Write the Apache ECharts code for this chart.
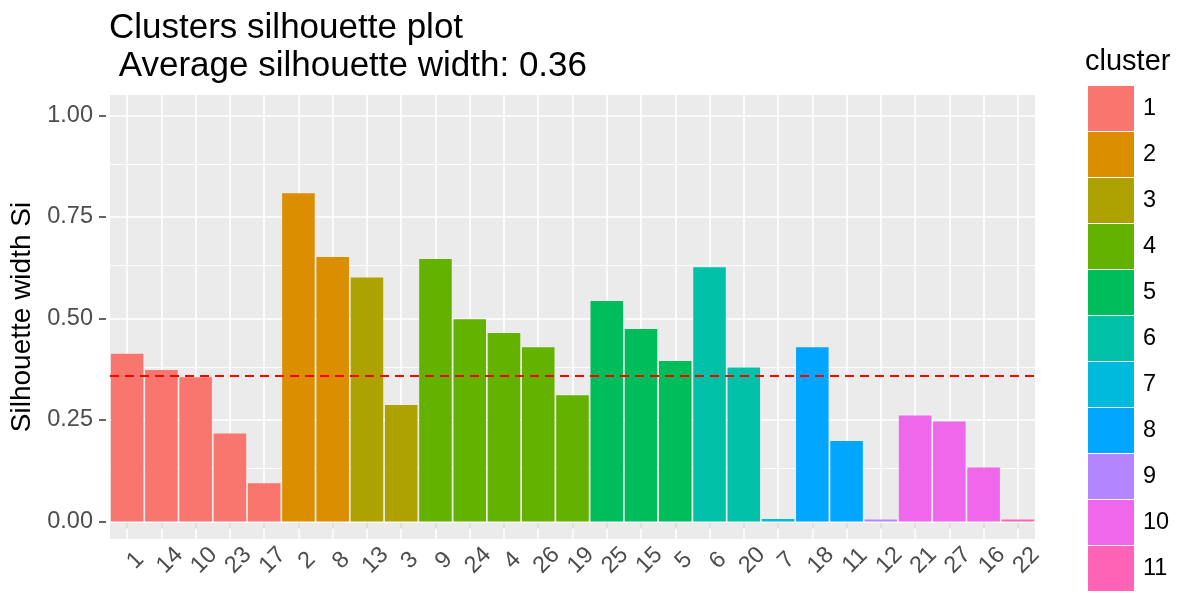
<!DOCTYPE html>
<html>
<head>
<meta charset="utf-8">
<title>Clusters silhouette plot</title>
<script src="https://cdn.jsdelivr.net/npm/echarts@6/dist/echarts.min.js"></script>
<style>
  html, body { margin: 0; padding: 0; background: #fff; }
  #main { width: 1180px; height: 593px; }
</style>
</head>
<body>
<div id="main"></div>
<script>
// observations in silhouette order
const samples = ['1', '14', '10', '23', '17', '2', '8', '13', '3', '9', '24', '4', '26', '19',
  '25', '15', '5', '6', '20', '7', '18', '11', '12', '21', '27', '16', '22'];
const silWidth = [0.413, 0.373, 0.355, 0.217, 0.094, 0.808, 0.651, 0.601, 0.287, 0.646, 0.498, 0.464, 0.429, 0.311,
  0.543, 0.474, 0.395, 0.626, 0.379, 0.006, 0.429, 0.198, 0.005, 0.261, 0.246, 0.133, 0.005];
const clusterOf = ['1', '1', '1', '1', '1', '2', '2', '3', '3', '4', '4', '4', '4', '4',
  '5', '5', '5', '6', '6', '7', '8', '8', '9', '10', '10', '10', '11'];
const clusters = ['1', '2', '3', '4', '5', '6', '7', '8', '9', '10', '11'];
const clusterColors = ['#F8766D', '#DB8E00', '#AEA200', '#64B200', '#00BD5C', '#00C1A7',
  '#00BADE', '#00A6FF', '#B385FF', '#EF67EB', '#FF63B6'];
const avgWidth = 0.36;
const yTicks = [0, 0.25, 0.5, 0.75, 1];
const yMinorTicks = [0.125, 0.375, 0.625, 0.875];

const chart = echarts.init(document.getElementById('main'), null, { renderer: 'canvas' });

// one bar series per cluster, overlapping so each category shows one bar
const barSeries = clusters.map((c, i) => ({
  name: c,
  type: 'bar',
  z: 2,
  barGap: '-100%',
  barCategoryGap: '5%',
  itemStyle: { color: clusterColors[i] },
  data: silWidth.map((v, k) => (clusterOf[k] === c ? v : null))
}));

// panel grid lines (ggplot style) drawn as mark lines behind the bars
const gridLines = [];
yTicks.forEach(v => gridLines.push({ yAxis: v, lineStyle: { width: 1.6 } }));
yMinorTicks.forEach(v => gridLines.push({ yAxis: v, lineStyle: { width: 0.9 } }));
samples.forEach(s => gridLines.push({ xAxis: s, lineStyle: { width: 1.6 } }));

const option = {
  animation: false,
  textStyle: { fontFamily: 'Liberation Sans, Arial, sans-serif' },
  title: [
    {
      text: 'Clusters silhouette plot\n Average silhouette width: 0.36',
      left: 104,
      top: 4,
      textStyle: { fontSize: 35, fontWeight: 'normal', color: '#000', lineHeight: 38 }
    },
    {
      text: 'cluster',
      left: 1080,
      top: 42,
      textStyle: { fontSize: 29, fontWeight: 'normal', color: '#000' }
    }
  ],
  legend: {
    data: clusters,
    orient: 'vertical',
    left: 1083,
    top: 81,
    height: 540,
    itemWidth: 46,
    itemHeight: 45,
    itemGap: 1,
    icon: 'rect',
    selectedMode: false,
    textStyle: { fontSize: 23.5, color: '#000', padding: [0, 0, 0, 4] }
  },
  grid: {
    left: 110,
    right: 145,
    top: 95,
    bottom: 54,
    show: true,
    backgroundColor: '#EBEBEB',
    borderWidth: 0,
    outerBoundsMode: 'none'
  },
  xAxis: {
    type: 'category',
    data: samples,
    axisLine: { show: false },
    axisTick: { show: true, alignWithLabel: true, length: 7, lineStyle: { color: '#333', width: 1.5 } },
    axisLabel: {
      interval: 0,
      rotate: 45,
      align: 'center',
      verticalAlign: 'top',
      margin: 13,
      fontSize: 23.5,
      color: '#4D4D4D'
    },
    splitLine: { show: false }
  },
  yAxis: {
    type: 'value',
    min: -0.043,
    max: 1.05,
    offset: 4,
    name: 'Silhouette width Si',
    nameLocation: 'middle',
    nameGap: 70,
    nameTextStyle: { fontSize: 28, color: '#000' },
    axisLine: { show: false },
    axisTick: { show: true, length: 7, customValues: yTicks, lineStyle: { color: '#333', width: 1.5 } },
    axisLabel: {
      customValues: yTicks,
      margin: 13,
      fontSize: 23.5,
      color: '#4D4D4D',
      formatter: v => v.toFixed(2)
    },
    splitLine: { show: false }
  },
  series: [
    {
      name: 'grid',
      type: 'line',
      z: 1,
      silent: true,
      showSymbol: false,
      data: samples.map(() => null),
      markLine: {
        z: 1,
        silent: true,
        symbol: 'none',
        label: { show: false },
        lineStyle: { color: '#fff', type: 'solid' },
        emphasis: { disabled: true },
        data: gridLines
      }
    },
    ...barSeries,
    {
      name: 'average',
      type: 'line',
      z: 3,
      silent: true,
      showSymbol: false,
      data: samples.map(() => null),
      markLine: {
        z: 3,
        silent: true,
        symbol: 'none',
        label: { show: false },
        lineStyle: { color: '#FF0000', type: [9, 6], width: 2 },
        emphasis: { disabled: true },
        data: [{ yAxis: avgWidth }]
      }
    }
  ]
};

chart.setOption(option);
</script>
</body>
</html>
